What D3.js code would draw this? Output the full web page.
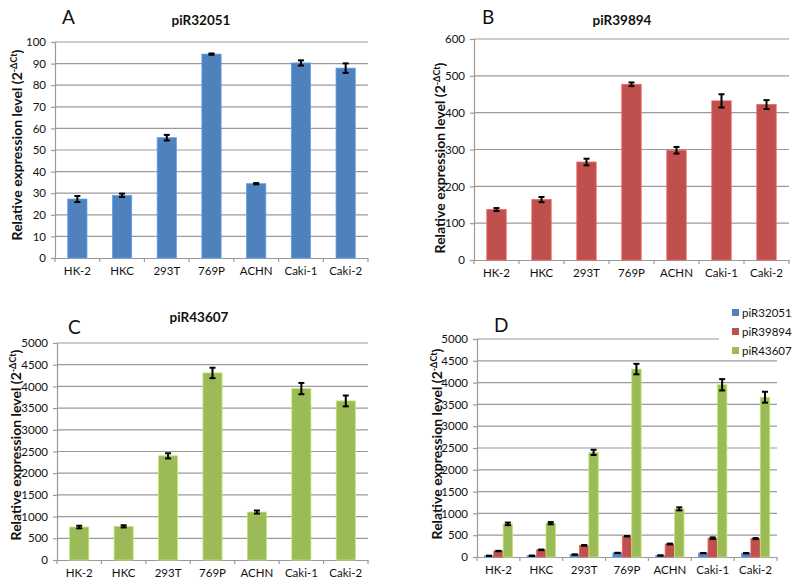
<!DOCTYPE html>
<html>
<head>
<meta charset="utf-8">
<script src="https://cdn.jsdelivr.net/npm/d3@7"></script>
<style>
  html, body { margin: 0; padding: 0; background: #fff; }
  svg { display: block; }
  text { font-family: Lato, "Open Sans", sans-serif; fill: #111; }
</style>
</head>
<body>
<svg id="chart" width="800" height="588"></svg>
<script>
// ---- data ----
const categories = ["HK-2", "HKC", "293T", "769P", "ACHN", "Caki-1", "Caki-2"];
const seriesNames = ["piR32051", "piR39894", "piR43607"];
const piR32051 = [27.3, 29.0, 55.7, 94.4, 34.4, 90.3, 87.9];
const piR32051Err = [1.4, 0.8, 1.3, 0.3, 0.3, 1.2, 2.2];
const piR39894 = [137, 164, 266, 477, 298, 432, 422];
const piR39894Err = [4, 7, 9, 5, 9, 18, 12];
const piR43607 = [760, 775, 2400, 4310, 1105, 3950, 3665];
const piR43607Err = [30, 25, 60, 120, 35, 130, 125];
const ticksA = [0, 10, 20, 30, 40, 50, 60, 70, 80, 90, 100];
const ticksB = [0, 100, 200, 300, 400, 500, 600];
const ticksC = [0, 500, 1000, 1500, 2000, 2500, 3000, 3500, 4000, 4500, 5000];
const colors = ["#4F81BD", "#C0504D", "#9BBB59"];

const svg = d3.select("#chart");
const gridColor = "#9a9a9a";
const font = "Lato, 'Open Sans', sans-serif";

function yLabel(g, x, y) {
  const t = g.append("text")
    .attr("transform", `translate(${x},${y}) rotate(-90)`)
    .attr("text-anchor", "middle")
    .style("font-weight", "bold")
    .style("font-size", "14px");
  t.append("tspan").text("Relative expression level (2");
  t.append("tspan").attr("dy", -5).style("font-size", "9px").text("-ΔCt");
  t.append("tspan").attr("dy", 5).text(")");
}

function panel(cfg) {
  const g = svg.append("g");
  const x = d3.scaleBand().domain(categories).range([cfg.left, cfg.right]);
  const y = d3.scaleLinear().domain([0, cfg.ticks[cfg.ticks.length - 1]]).range([cfg.bottom, cfg.top]);

  // gridlines
  g.append("g").selectAll("line").data(cfg.ticks.slice(1)).join("line")
    .attr("x1", cfg.left).attr("x2", d => (cfg.gridEnd && d === cfg.ticks[cfg.ticks.length - 1]) ? cfg.gridEnd : cfg.right)
    .attr("y1", d => y(d)).attr("y2", d => y(d))
    .attr("stroke", gridColor).attr("stroke-width", 1.2);

  // y axis
  const ya = g.append("g").attr("transform", `translate(${cfg.left},0)`)
    .call(d3.axisLeft(y).tickValues(cfg.ticks).tickFormat(d3.format("d")).tickSize(4).tickPadding(5));
  ya.select(".domain").attr("stroke", gridColor).attr("stroke-width", 1.2);
  ya.selectAll(".tick line").attr("stroke", gridColor).attr("stroke-width", 1.2);
  ya.selectAll(".tick text").style("font-size", "11.5px").style("font-family", font).attr("fill", "#111");

  // x axis
  const xa = g.append("g").attr("transform", `translate(0,${cfg.bottom})`)
    .call(d3.axisBottom(x).tickSize(0).tickPadding(9));
  xa.select(".domain").attr("stroke", gridColor).attr("stroke-width", 1.2);
  xa.selectAll(".tick text").style("font-size", "11.5px").style("font-family", font).attr("fill", "#111");
  // category separator ticks
  const seps = d3.range(categories.length + 1).map(i => cfg.left + i * x.step());
  g.append("g").selectAll("line").data(seps).join("line")
    .attr("x1", d => d).attr("x2", d => d)
    .attr("y1", cfg.bottom).attr("y2", cfg.bottom + 4)
    .attr("stroke", gridColor).attr("stroke-width", 1.2);

  // bars
  const sets = cfg.series;
  const groupFrac = cfg.groupFrac;
  const bw = x.step() * groupFrac / sets.length;
  sets.forEach((s, si) => {
    const bx = (i) => x(categories[i]) + x.step() * (1 - groupFrac) / 2 + si * bw;
    g.append("g").selectAll("rect").data(s.values).join("rect")
      .attr("x", (d, i) => bx(i)).attr("width", bw)
      .attr("y", d => y(d)).attr("height", d => y(0) - y(d))
      .attr("fill", s.color)
      .attr("stroke", d3.color(s.color).brighter(0.6)).attr("stroke-width", 0.8);
    // error bars
    const eg = g.append("g");
    const cap = Math.min(6, bw * 0.7);
    s.values.forEach((v, i) => {
      const cx = bx(i) + bw / 2;
      const e = s.err[i];
      eg.append("line").attr("x1", cx).attr("x2", cx).attr("y1", y(v - e)).attr("y2", y(v + e))
        .attr("stroke", "#000").attr("stroke-width", 2);
      [v - e, v + e].forEach(t => {
        eg.append("line").attr("x1", cx - cap / 2).attr("x2", cx + cap / 2)
          .attr("y1", y(t)).attr("y2", y(t)).attr("stroke", "#000").attr("stroke-width", 2);
      });
    });
  });

  // title, letter, y label
  if (cfg.title) {
    g.append("text").attr("x", cfg.titleX).attr("y", cfg.titleY).attr("text-anchor", "middle")
      .style("font-weight", "bold").style("font-size", "13.5px").text(cfg.title);
  }
  g.append("text").attr("x", cfg.letterX).attr("y", cfg.letterY)
    .style("font-size", "19px").text(cfg.letter);
  yLabel(g, cfg.ylabX, cfg.ylabY);
}

panel({
  left: 55, right: 368, top: 42, bottom: 258, ticks: ticksA,
  series: [{ values: piR32051, err: piR32051Err, color: colors[0] }], groupFrac: 0.43,
  title: "piR32051", titleX: 201, titleY: 25, letter: "A", letterX: 62, letterY: 24,
  ylabX: 22, ylabY: 145
});
panel({
  left: 474, right: 789, top: 39, bottom: 260, ticks: ticksB,
  series: [{ values: piR39894, err: piR39894Err, color: colors[1] }], groupFrac: 0.43,
  title: "piR39894", titleX: 622, titleY: 25, letter: "B", letterX: 482, letterY: 24,
  ylabX: 445, ylabY: 158
});
panel({
  left: 57, right: 368, top: 343, bottom: 560, ticks: ticksC,
  series: [{ values: piR43607, err: piR43607Err, color: colors[2] }], groupFrac: 0.43,
  title: "piR43607", titleX: 199, titleY: 322, letter: "C", letterX: 68, letterY: 334,
  ylabX: 21, ylabY: 445
});
panel({
  left: 477, right: 777, top: 339, bottom: 557, ticks: ticksC, gridEnd: 719,
  series: [
    { values: piR32051, err: piR32051Err, color: colors[0] },
    { values: piR39894, err: piR39894Err, color: colors[1] },
    { values: piR43607, err: piR43607Err, color: colors[2] }
  ], groupFrac: 0.66,
  title: null, letter: "D", letterX: 494, letterY: 332,
  ylabX: 442, ylabY: 444
});

// legend for D
const lg = svg.append("g");
seriesNames.forEach((n, i) => {
  const yy = 313 + i * 19;
  lg.append("rect").attr("x", 732).attr("y", yy - 4).attr("width", 7).attr("height", 7).attr("fill", colors[i]);
  lg.append("text").attr("x", 742).attr("y", yy + 4).style("font-size", "11.5px").text(n);
});
</script>
</body>
</html>
